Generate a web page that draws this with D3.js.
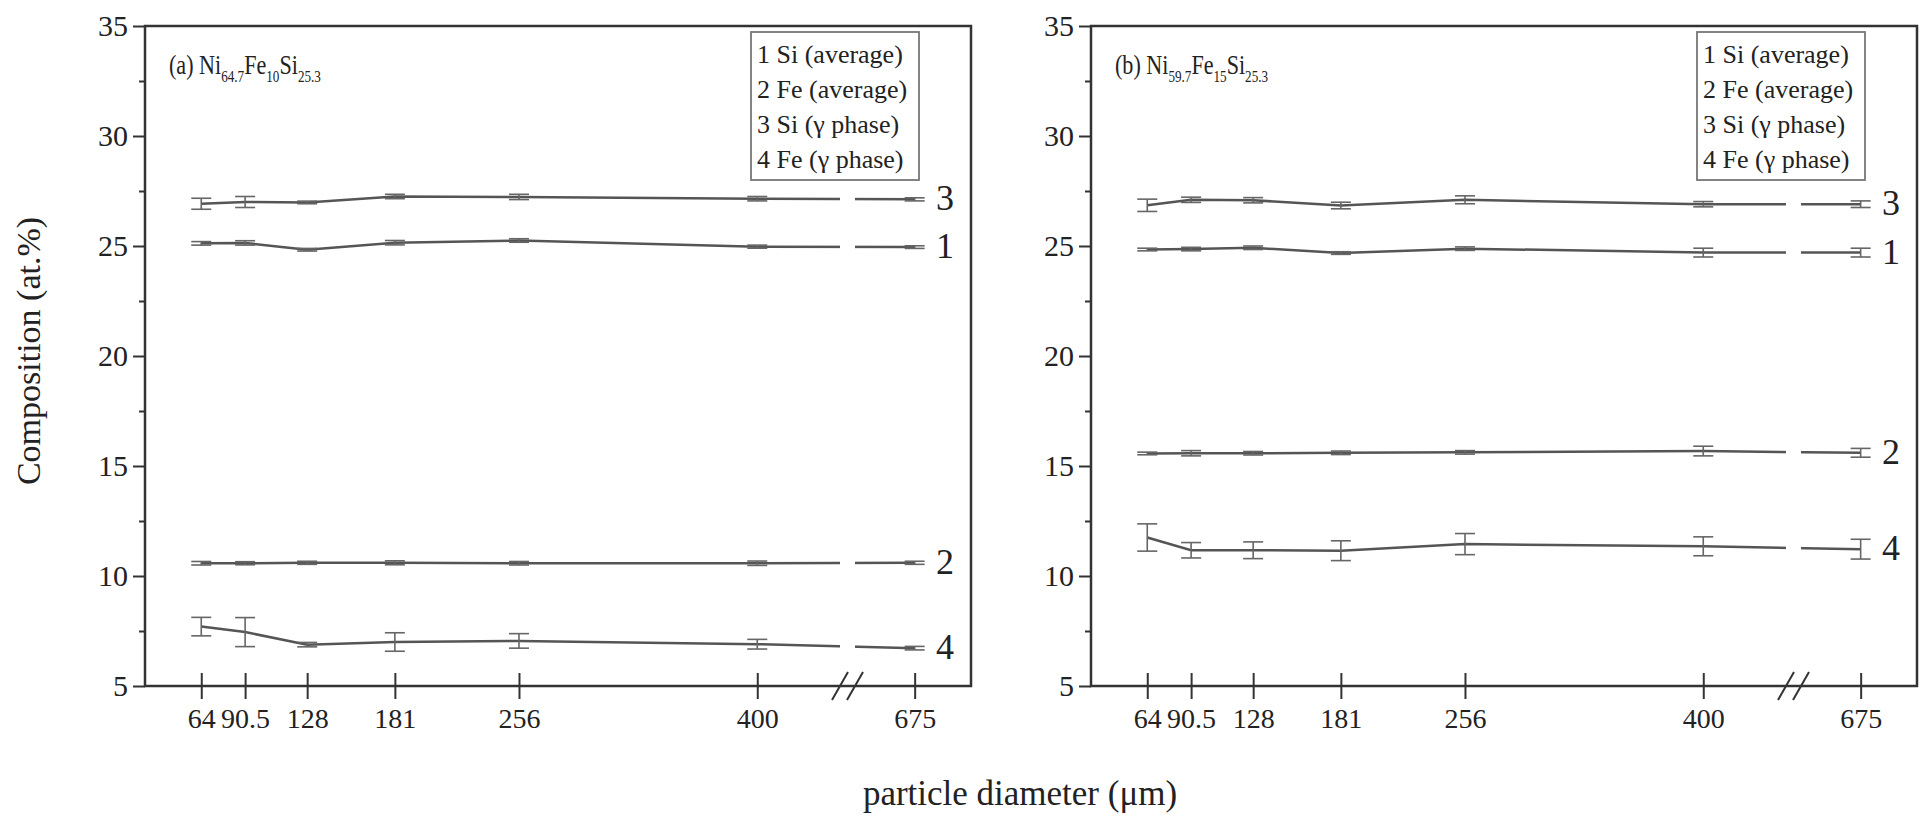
<!DOCTYPE html>
<html>
<head>
<meta charset="utf-8">
<script src="https://cdn.jsdelivr.net/npm/d3@7"></script>
<style>
  html, body { margin: 0; padding: 0; background: #fff; }
  svg { display: block; font-family: "Liberation Serif", "Times New Roman", serif; }
  .tick text { fill: #222; }
</style>
</head>
<body>
<svg id="chart" width="1923" height="825"></svg>
<script>
// Particle diameters (µm) and their axis labels
const diameters = [64, 90.5, 128, 181, 256, 400, 675];
const diameterLabels = ["64", "90.5", "128", "181", "256", "400", "675"];
const yTicks = [5, 10, 15, 20, 25, 30, 35];
const yMinorTicks = [7.5, 12.5, 17.5, 22.5, 27.5, 32.5];
const legendLabels = ["1 Si (average)", "2 Fe (average)", "3 Si (\u03b3 phase)", "4 Fe (\u03b3 phase)"];

// (a) Ni64.7Fe10Si25.3
const siAvgA      = [25.12, 25.14, 24.83, 25.15, 25.25, 24.97, 24.95];
const siAvgErrA   = [0.08, 0.10, 0.06, 0.10, 0.08, 0.07, 0.06];
const feAvgA      = [10.58, 10.58, 10.60, 10.60, 10.58, 10.58, 10.60];
const feAvgErrA   = [0.08, 0.07, 0.07, 0.09, 0.08, 0.10, 0.07];
const siGammaA    = [26.92, 27.00, 26.98, 27.25, 27.23, 27.15, 27.12];
const siGammaErrA = [0.25, 0.25, 0.06, 0.10, 0.12, 0.10, 0.07];
const feGammaA    = [7.70, 7.45, 6.88, 7.00, 7.05, 6.90, 6.72];
const feGammaErrA = [0.42, 0.66, 0.10, 0.42, 0.33, 0.22, 0.08];

// (b) Ni59.7Fe15Si25.3
const siAvgB      = [24.84, 24.86, 24.92, 24.68, 24.88, 24.70, 24.70];
const siAvgErrB   = [0.06, 0.08, 0.08, 0.06, 0.08, 0.20, 0.20];
const feAvgB      = [15.57, 15.58, 15.58, 15.60, 15.62, 15.68, 15.60];
const feAvgErrB   = [0.06, 0.12, 0.08, 0.08, 0.08, 0.22, 0.20];
const siGammaB    = [26.85, 27.10, 27.08, 26.84, 27.10, 26.90, 26.90];
const siGammaErrB = [0.28, 0.12, 0.12, 0.15, 0.18, 0.12, 0.15];
const feGammaB    = [11.75, 11.17, 11.17, 11.15, 11.45, 11.35, 11.22];
const feGammaErrB = [0.62, 0.35, 0.38, 0.45, 0.48, 0.43, 0.45];

const panels = [
  { left: 145, tag: "(a) ", ni: "64.7", fe: "10", si: "25.3",
    series: [
      { num: "1", values: siAvgA, errors: siAvgErrA },
      { num: "2", values: feAvgA, errors: feAvgErrA },
      { num: "3", values: siGammaA, errors: siGammaErrA },
      { num: "4", values: feGammaA, errors: feGammaErrA }
    ] },
  { left: 1091, tag: "(b) ", ni: "59.7", fe: "15", si: "25.3",
    series: [
      { num: "1", values: siAvgB, errors: siAvgErrB },
      { num: "2", values: feAvgB, errors: feAvgErrB },
      { num: "3", values: siGammaB, errors: siGammaErrB },
      { num: "4", values: feGammaB, errors: feGammaErrB }
    ] }
];

const plotTop = 26, plotW = 826, plotH = 660;
const gapStart = 695, gapEnd = 710;   // broken-axis gap, in plot pixels

const svg = d3.select("#chart");

// Piecewise x scale: linear 30–450, axis break, then 639–709
const x = d3.scaleLinear().domain([30, 450, 639, 709]).range([0, gapStart, gapEnd, plotW]);
const y = d3.scaleLinear().domain([5, 35]).range([plotH, 0]);

panels.forEach((p, pi) => {
  const g = svg.append("g").attr("transform", `translate(${p.left},${plotTop})`);

  const clipId = "clip" + pi;
  const clip = g.append("clipPath").attr("id", clipId);
  clip.append("rect").attr("x", 0).attr("y", 0).attr("width", gapStart).attr("height", plotH);
  clip.append("rect").attr("x", gapEnd).attr("y", 0).attr("width", plotW - gapEnd).attr("height", plotH);

  // y axis: major and minor ticks
  g.append("g")
    .call(d3.axisLeft(y).tickValues(yTicks).tickSize(12).tickSizeOuter(0).tickPadding(5)
      .tickFormat(d3.format("d")))
    .call(a => a.select(".domain").remove())
    .call(a => a.selectAll(".tick line").attr("stroke", "#333").attr("stroke-width", 2))
    .call(a => a.selectAll(".tick text").attr("font-size", 30).attr("font-family", "Liberation Serif"));
  g.append("g")
    .call(d3.axisLeft(y).tickValues(yMinorTicks).tickSize(6).tickFormat(""))
    .call(a => a.select(".domain").remove())
    .call(a => a.selectAll(".tick line").attr("stroke", "#333").attr("stroke-width", 2));

  // x axis with ticks crossing the line
  g.append("g")
    .attr("transform", `translate(0,${plotH})`)
    .call(d3.axisBottom(x).tickValues(diameters).tickSize(13).tickPadding(9)
      .tickFormat((d, i) => diameterLabels[i]))
    .call(a => a.select(".domain").remove())
    .call(a => a.selectAll(".tick line").attr("y1", -13).attr("y2", 13)
      .attr("stroke", "#333").attr("stroke-width", 2))
    .call(a => a.selectAll(".tick text").attr("font-size", 28).attr("font-family", "Liberation Serif"));

  // plot frame
  g.append("rect").attr("x", 0).attr("y", 0).attr("width", plotW).attr("height", plotH)
    .attr("fill", "none").attr("stroke", "#333").attr("stroke-width", 2.5);

  // axis break marks
  [gapStart, gapEnd].forEach(bx => {
    g.append("line")
      .attr("x1", bx - 8).attr("y1", plotH + 14).attr("x2", bx + 8).attr("y2", plotH - 14)
      .attr("stroke", "#333").attr("stroke-width", 2);
  });

  const data = g.append("g").attr("clip-path", `url(#${clipId})`);
  const line = d3.line().x((d, i) => x(diameters[i])).y(d => y(d));

  p.series.forEach(s => {
    data.append("path").datum(s.values)
      .attr("d", line).attr("fill", "none")
      .attr("stroke", "#555").attr("stroke-width", 2.5);

    const eb = g.append("g").attr("stroke", "#666").attr("stroke-width", 1.6).attr("fill", "none");
    s.values.forEach((v, i) => {
      const cx = x(diameters[i]);
      const y1 = y(v + s.errors[i]), y2 = y(v - s.errors[i]);
      eb.append("line").attr("x1", cx).attr("x2", cx).attr("y1", y1).attr("y2", y2);
      eb.append("line").attr("x1", cx - 10).attr("x2", cx + 10).attr("y1", y1).attr("y2", y1);
      eb.append("line").attr("x1", cx - 10).attr("x2", cx + 10).attr("y1", y2).attr("y2", y2);
    });

    // series number at the right end
    g.append("text")
      .attr("x", 791).attr("y", y(s.values[s.values.length - 1]) + 11)
      .attr("font-size", 36).attr("fill", "#222")
      .text(s.num);
  });

  // composition title (narrow serif look)
  const t = g.append("text").attr("transform", "translate(24,48) scale(0.82,1)")
    .attr("font-size", 27).attr("fill", "#222");
  t.append("tspan").text(p.tag + "Ni");
  t.append("tspan").attr("font-size", 16).attr("dy", 8).text(p.ni);
  t.append("tspan").attr("dy", -8).text("Fe");
  t.append("tspan").attr("font-size", 16).attr("dy", 8).text(p.fe);
  t.append("tspan").attr("dy", -8).text("Si");
  t.append("tspan").attr("font-size", 16).attr("dy", 8).text(p.si);

  // legend box
  const lg = g.append("g").attr("transform", "translate(606,6)");
  lg.append("rect").attr("width", 168).attr("height", 148)
    .attr("fill", "#fff").attr("stroke", "#777").attr("stroke-width", 1.8);
  legendLabels.forEach((lbl, i) => {
    lg.append("text").attr("x", 6).attr("y", 31 + i * 35)
      .attr("font-size", 26).attr("fill", "#222").text(lbl);
  });
});

// axis titles
svg.append("text")
  .attr("transform", "translate(40,351) rotate(-90)")
  .attr("text-anchor", "middle").attr("font-size", 34).attr("fill", "#222")
  .text("Composition (at.%)");

svg.append("text")
  .attr("x", 1020).attr("y", 805)
  .attr("text-anchor", "middle").attr("font-size", 35).attr("fill", "#222")
  .text("particle diameter (\u03bcm)");
</script>
</body>
</html>
